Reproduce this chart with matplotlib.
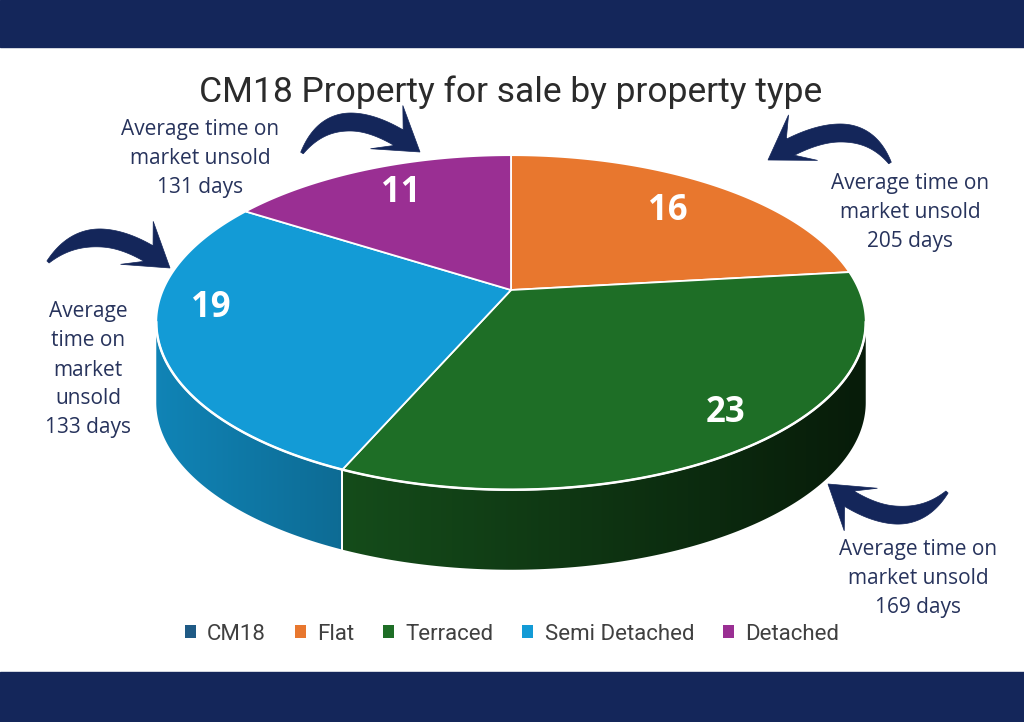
import numpy as np
import matplotlib; matplotlib.use("Agg")
import matplotlib.pyplot as plt
from matplotlib.patches import Polygon, Rectangle, Patch
from matplotlib.colors import to_rgb

# data
types = ['Flat', 'Terraced', 'Semi Detached', 'Detached']
counts = [16, 23, 19, 11]
colors = ['#E8772E', '#1E6E26', '#139BD6', '#9A2F93']
legend_labels = ['CM18', 'Flat', 'Terraced', 'Semi Detached', 'Detached']
legend_colors = ['#1F5A85', '#E8772E', '#1E6E26', '#139BD6', '#9A2F93']
notes = ['Average time on\nmarket unsold\n205 days',
         'Average time on\nmarket unsold\n169 days',
         'Average\ntime on\nmarket\nunsold\n133 days',
         'Average time on\nmarket unsold\n131 days']

NAVY = '#14265A'
TXT = '#27335C'

# pie geometry (pixels)
cx, cy = 511, 290
A, B, k = 348, 161, 0.194
depth = 80


def proj(t, drop=0.0):
    u, v = np.cos(t), np.sin(t)
    d = 1 + k * v
    return cx + A * u / d, cy - B * v / d + drop


def curved_arrow(ax, tail, mid, tip, head_len=32, head_w=54, wmax=18):
    T, M, X = np.array(tail, float), np.array(mid, float), np.array(tip, float)
    P1 = (M - 0.25 * T - 0.25 * X) / 0.5
    t = np.linspace(0, 1, 300)[:, None]
    c = (1 - t) ** 2 * T + 2 * (1 - t) * t * P1 + t ** 2 * X
    dc = 2 * (1 - t) * (P1 - T) + 2 * t * (X - P1)
    seg = np.r_[0, np.cumsum(np.hypot(*np.diff(c, axis=0).T))]
    keep = seg <= seg[-1] - head_len * 0.8
    c, dc = c[keep], dc[keep]
    s = np.linspace(0, 1, len(c))
    w = 3 + (wmax - 3) * np.sin(np.minimum(s / 0.6, 1) * np.pi / 2)
    tan = dc / np.hypot(*dc.T)[:, None]
    nrm = np.c_[-tan[:, 1], tan[:, 0]]
    left = c + nrm * w[:, None] / 2
    right = c - nrm * w[:, None] / 2
    d = (X - P1) / np.hypot(*(X - P1))
    n = np.array([-d[1], d[0]])
    H0 = X - d * head_len
    b1 = H0 - d * head_len * 0.3 + n * head_w / 2
    b2 = H0 - d * head_len * 0.3 - n * head_w / 2
    pts = np.vstack([left, [b1, X, b2], right[::-1]])
    ax.add_patch(Polygon(pts, closed=True, facecolor=NAVY, edgecolor=NAVY,
                         lw=0.5, zorder=6))


fig = plt.figure(figsize=(10.24, 7.22), dpi=100)
ax = fig.add_axes([0, 0, 1, 1])

ax.add_patch(Rectangle((0, 0), 1024, 47, color=NAVY, zorder=1))
ax.add_patch(Rectangle((0, 672), 1024, 50, color=NAVY, zorder=1))

fracs = np.array(counts) / sum(counts) * 360
starts = 90 - np.concatenate([[0], np.cumsum(fracs)[:-1]])
ends = starts - fracs

# visible side range
vis_lo = np.degrees(np.pi + np.arcsin(k)) - 360
vis_hi = -np.degrees(np.arcsin(k))
xl, xr = proj(np.radians(vis_lo))[0], proj(np.radians(vis_hi))[0]

for s, e, col in zip(starts, ends, colors):
    for shift in (0, 360, -360):
        lo = max(e + shift, vis_lo)
        hi = min(s + shift, vis_hi)
        if hi <= lo:
            continue
        ts = np.radians(np.linspace(lo, hi, 200))
        tx, ty = proj(ts)
        bx, by = proj(ts[::-1], depth)
        poly = Polygon(list(zip(tx, ty)) + list(zip(bx, by)), closed=True,
                       facecolor='none', edgecolor='none')
        ax.add_patch(poly)
        x0, x1 = min(tx.min(), bx.min()) - 2, max(tx.max(), bx.max()) + 2
        y0, y1 = ty.min() - 2, by.max() + 2
        xs = np.linspace(x0, x1, 300)
        p = np.clip((xs - xl) / (xr - xl), 0, 1)
        f = 0.85 - 0.6 * p
        img = np.tile((np.array(to_rgb(col))[None, :] * f[:, None])[None], (4, 1, 1))
        im = ax.imshow(img, extent=(x0, x1, y1, y0), aspect='auto',
                       interpolation='bilinear', zorder=2)
        im.set_clip_path(poly)
        # white seam on the side
        for a in (lo, hi):
            if vis_lo + 0.5 < a < vis_hi - 0.5:
                r = np.radians(a)
                xa, ya = proj(r)
                xb, yb = proj(r, depth)
                ax.plot([xa, xb], [ya, yb], color='white', lw=1.4, zorder=3)

# top face
for s, e, col in zip(starts, ends, colors):
    ts = np.radians(np.linspace(s, e, 200))
    xs, ys = proj(ts)
    pts = [(cx, cy)] + list(zip(xs, ys))
    ax.add_patch(Polygon(pts, closed=True, facecolor=col, edgecolor='white',
                         lw=1.3, zorder=4))

# white rim on front edge
ts = np.radians(np.linspace(vis_lo, vis_hi, 300))
xs, ys = proj(ts)
ax.plot(xs, ys, color='white', lw=1.8, zorder=5)

# value labels
label_pos = [(668, 211), (726, 413), (211, 308), (401, 193)]
for (x, y), n in zip(label_pos, counts):
    ax.text(x, y, str(n), color='white', fontsize=25, fontweight='bold',
            ha='center', va='center', family='Open Sans', zorder=6)

# title
ax.text(511, 92, 'CM18 Property for sale by property type', fontsize=25.5,
        ha='center', va='center', color='#2B2B2B', family='Roboto', zorder=6)

# notes
note_pos = [(910, 213), (918, 578), (88, 370), (200, 158)]
for (x, y), t in zip(note_pos, notes):
    ax.text(x, y, t, fontsize=15, ha='center', va='center', color=TXT,
            family='Open Sans', linespacing=1.5, zorder=6)

# curved arrows: tail, apex, tip
curved_arrow(ax, (890, 163), (842, 133), (768, 160))
curved_arrow(ax, (947, 492), (895, 515), (828, 484))
curved_arrow(ax, (48, 262), (102, 238), (170, 268))
curved_arrow(ax, (302, 153), (350, 122), (420, 152))

handles = [Patch(facecolor=c, edgecolor='none') for c in legend_colors]
fig.legend(handles, legend_labels, loc='center', ncol=5,
           bbox_to_anchor=(0.5, 1 - 634 / 722), frameon=False,
           handlelength=0.5, handleheight=0.5, handletextpad=0.5,
           columnspacing=1.3, prop={'family': 'Roboto', 'size': 16},
           labelcolor='#404040')

ax.set_xlim(0, 1024)
ax.set_ylim(722, 0)
ax.axis('off')
fig.savefig('out.png', dpi=100)
